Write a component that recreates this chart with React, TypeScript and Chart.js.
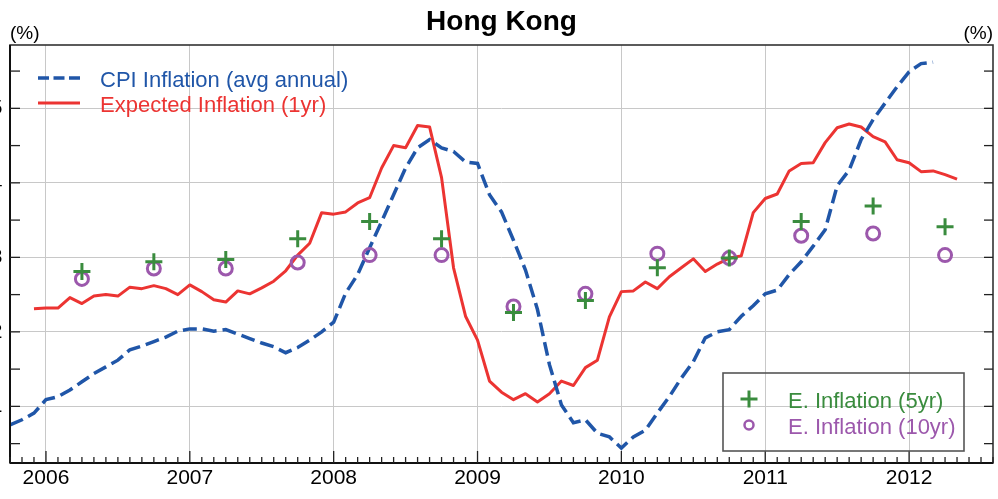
import React, { useEffect, useRef } from 'react';
import { Chart, registerables } from 'chart.js';

Chart.register(...registerables);

// x values are months counted from Jan 2006 (0 = Jan 2006)
const X_MIN = -3; // Oct 2005
const X_MAX = 79; // Aug 2012

const cpiStart = -3;
const cpiInflation = [
  0.75, 0.82, 0.91, 1.09, 1.13, 1.22, 1.33, 1.44, 1.53, 1.62, 1.76, 1.81, 1.87, 1.93, 2.01,
  2.04, 2.04, 2.01, 2.03, 1.97, 1.91, 1.85, 1.8, 1.72, 1.79, 1.89, 2.0,
  2.13, 2.52, 2.77, 3.13, 3.48, 3.84, 4.2, 4.47, 4.58, 4.47, 4.42, 4.28,
  4.26, 3.84, 3.61, 3.23, 2.83, 2.3, 1.56, 1.02, 0.78, 0.82, 0.64, 0.59,
  0.44, 0.59, 0.68, 0.91, 1.13, 1.38, 1.6, 1.92, 2.0, 2.03, 2.21, 2.35,
  2.51, 2.56, 2.77, 2.94, 3.15, 3.37, 3.96, 4.17, 4.58, 4.85, 5.07, 5.29,
  5.49, 5.6, 5.62,
];

const expStart = -1;
const expectedInflation1y = [
  2.31, 2.32, 2.32, 2.46, 2.38, 2.48, 2.5, 2.48, 2.6, 2.58, 2.62, 2.58, 2.5,
  2.63, 2.54, 2.43, 2.4, 2.55, 2.51, 2.59, 2.68, 2.82, 3.03, 3.19, 3.6,
  3.58, 3.61, 3.73, 3.8, 4.2, 4.5, 4.47, 4.77, 4.75, 4.07, 2.86, 2.21,
  1.89, 1.34, 1.19, 1.09, 1.17, 1.06, 1.17, 1.34, 1.28, 1.52, 1.62, 2.2,
  2.54, 2.55, 2.67, 2.58, 2.74, 2.86, 2.98, 2.81, 2.91, 2.99, 3.02, 3.6,
  3.79, 3.85, 4.16, 4.26, 4.27, 4.54, 4.74, 4.79, 4.75, 4.62, 4.55, 4.31,
  4.27, 4.15, 4.16, 4.11, 4.05,
];

const surveyMonths = [3, 9, 15, 21, 27, 33, 39, 45, 51, 57, 63, 69, 75];
const expected5y = [2.81, 2.94, 2.97, 3.25, 3.48, 3.25, 2.26, 2.42, 2.86, 2.99, 3.48, 3.69, 3.41];
const expected10y = [2.71, 2.85, 2.85, 2.93, 3.03, 3.03, 2.34, 2.51, 3.05, 2.99, 3.29, 3.32, 3.03];

const yearLabels = ['2006', '2007', '2008', '2009', '2010', '2011', '2012'];
const Y_MIN = 0.24;
const Y_MAX = 5.85;
const yTickValues = [1, 2, 3, 4, 5];

const BLUE = 'rgb(32,86,168)';
const RED = 'rgb(236,52,50)';
const GREEN = 'rgb(58,140,62)';
const PURPLE = 'rgb(156,88,172)';
const FONT = '"Liberation Sans", Arial, sans-serif';

const OX = 30; // canvas is shifted 30px to the left of the page
const CW = 1063;
const CH = 499;

const decor = {
  id: 'decor',
  afterDraw(chart: any) {
    const { ctx, chartArea: a, scales } = chart;
    const xs = scales.x;
    const ys = scales.y;
    const line = (x1: number, y1: number, x2: number, y2: number) => {
      ctx.beginPath();
      ctx.moveTo(x1, y1);
      ctx.lineTo(x2, y2);
      ctx.stroke();
    };
    ctx.save();
    // frame
    ctx.strokeStyle = '#333';
    ctx.lineWidth = 1.6;
    ctx.strokeRect(a.left, a.top, a.right - a.left, a.bottom - a.top);
    ctx.strokeStyle = '#111';
    ctx.lineWidth = 2;
    line(a.left, a.top, a.left, a.bottom);
    line(a.left, a.bottom, a.right, a.bottom);
    // x ticks (inward)
    ctx.lineWidth = 1.3;
    ctx.strokeStyle = '#222';
    for (let m = Math.ceil(xs.min); m <= xs.max; m++) {
      const px = xs.getPixelForValue(m);
      line(px, a.bottom, px, a.bottom - (m % 12 === 0 ? 12 : 6));
    }
    // y ticks (inward), every half unit
    for (let v = Math.ceil(ys.min * 2) / 2; v <= ys.max; v += 0.5) {
      const py = ys.getPixelForValue(v);
      line(a.left, py, a.left + 10, py);
      line(a.right, py, a.right - 9, py);
    }
    // title
    ctx.fillStyle = '#000';
    ctx.textBaseline = 'alphabetic';
    ctx.textAlign = 'center';
    ctx.font = `bold 28px ${FONT}`;
    ctx.fillText('Hong Kong', (a.left + a.right) / 2, 30);
    // unit labels
    ctx.font = `19px ${FONT}`;
    ctx.textAlign = 'left';
    ctx.fillText('(%)', 10 + OX, 39);
    ctx.textAlign = 'right';
    ctx.fillText('(%)', 993 + OX, 39);

    // legend 1
    ctx.font = `22px ${FONT}`;
    ctx.textAlign = 'left';
    ctx.lineWidth = 3.5;
    ctx.strokeStyle = BLUE;
    ctx.setLineDash([11, 4.5]);
    line(38 + OX, 78, 80 + OX, 78);
    ctx.setLineDash([]);
    ctx.strokeStyle = RED;
    ctx.lineWidth = 3;
    line(38 + OX, 103, 80 + OX, 103);
    ctx.fillStyle = BLUE;
    ctx.fillText('CPI Inflation (avg annual)', 100 + OX, 87);
    ctx.fillStyle = RED;
    ctx.fillText('Expected Inflation (1yr)', 100 + OX, 112);

    // legend 2
    ctx.strokeStyle = '#555';
    ctx.lineWidth = 1.6;
    ctx.strokeRect(723 + OX, 373, 241, 78);
    ctx.strokeStyle = GREEN;
    ctx.lineWidth = 3;
    line(740.5 + OX, 399, 757.5 + OX, 399);
    line(749 + OX, 390.5, 749 + OX, 407.5);
    ctx.strokeStyle = PURPLE;
    ctx.lineWidth = 2.5;
    ctx.beginPath();
    ctx.arc(749 + OX, 425, 4.5, 0, Math.PI * 2);
    ctx.stroke();
    ctx.fillStyle = GREEN;
    ctx.fillText('E. Inflation (5yr)', 788 + OX, 408);
    ctx.fillStyle = PURPLE;
    ctx.fillText('E. Inflation (10yr)', 788 + OX, 434);
    ctx.restore();
  },
};

export default function App() {
  const ref = useRef<HTMLCanvasElement | null>(null);

  useEffect(() => {
    document.documentElement.style.overflow = 'hidden';
    document.body.style.overflow = 'hidden';
    const canvas = ref.current;
    if (!canvas) return;

    const cpiData = cpiInflation.map((v, i) => ({ x: cpiStart + i, y: v }));
    const expData = expectedInflation1y.map((v, i) => ({ x: expStart + i, y: v }));
    const e5Data = expected5y.map((v, i) => ({ x: surveyMonths[i], y: v }));
    const e10Data = expected10y.map((v, i) => ({ x: surveyMonths[i], y: v }));

    const chart = new Chart(canvas, {
      type: 'line',
      data: {
        datasets: [
          {
            label: 'E. Inflation (5yr)',
            data: e5Data,
            showLine: false,
            pointStyle: 'cross',
            pointRadius: 8.5,
            pointBorderWidth: 3,
            pointBorderColor: GREEN,
            pointBackgroundColor: GREEN,
            borderColor: GREEN,
          },
          {
            label: 'E. Inflation (10yr)',
            data: e10Data,
            showLine: false,
            pointStyle: 'circle',
            pointRadius: 6.5,
            pointBorderWidth: 3,
            pointBorderColor: PURPLE,
            pointBackgroundColor: 'rgba(0,0,0,0)',
            borderColor: PURPLE,
          },
          {
            label: 'CPI Inflation (avg annual)',
            data: cpiData,
            borderColor: BLUE,
            borderWidth: 3.5,
            borderDash: [14, 6],
            pointRadius: 0,
            tension: 0,
            fill: false,
          },
          {
            label: 'Expected Inflation (1yr)',
            data: expData,
            borderColor: RED,
            borderWidth: 3,
            pointRadius: 0,
            tension: 0,
            fill: false,
            borderJoinStyle: 'round',
          },
        ],
      },
      options: {
        responsive: false,
        animation: false,
        devicePixelRatio: 1,
        layout: { padding: { top: 45, left: 0, right: 0, bottom: 0 } },
        plugins: {
          legend: { display: false },
          title: { display: false },
          tooltip: { enabled: false },
        },
        scales: {
          x: {
            type: 'linear',
            min: X_MIN,
            max: X_MAX,
            afterBuildTicks: (s: any) => {
              s.ticks = yearLabels.map((_, i) => ({ value: i * 12 }));
            },
            afterFit: (s: any) => {
              s.height = 36;
            },
            grid: { color: '#c8c8c8', lineWidth: 1, drawTicks: false },
            border: { display: false },
            ticks: {
              autoSkip: false,
              maxRotation: 0,
              padding: 3,
              color: '#000',
              font: { family: FONT, size: 21 },
              callback: (v: any) => yearLabels[Math.round(Number(v) / 12)] ?? '',
            },
          },
          y: {
            type: 'linear',
            position: 'left',
            min: Y_MIN,
            max: Y_MAX,
            afterBuildTicks: (s: any) => {
              s.ticks = yTickValues.map((v) => ({ value: v }));
            },
            afterFit: (s: any) => {
              s.width = 40;
            },
            grid: { color: '#c8c8c8', lineWidth: 1, drawTicks: false },
            border: { display: false },
            ticks: {
              padding: 7.5,
              color: '#000',
              font: { family: FONT, size: 21 },
              callback: (v: any) => String(v),
            },
          },
          y2: {
            type: 'linear',
            position: 'right',
            min: Y_MIN,
            max: Y_MAX,
            afterBuildTicks: (s: any) => {
              s.ticks = yTickValues.map((v) => ({ value: v }));
            },
            afterFit: (s: any) => {
              s.width = 40;
            },
            grid: { display: false, drawTicks: false },
            border: { display: false },
            ticks: {
              padding: 9,
              color: '#000',
              font: { family: FONT, size: 21 },
              callback: (v: any) => String(v),
            },
          },
        },
      },
      plugins: [decor],
    } as any);

    return () => chart.destroy();
  }, []);

  return (
    <div style={{ position: 'absolute', left: -OX, top: 0, width: CW, height: CH, overflow: 'hidden' }}>
      <canvas ref={ref} width={CW} height={CH} style={{ display: 'block', width: CW, height: CH }} />
    </div>
  );
}
